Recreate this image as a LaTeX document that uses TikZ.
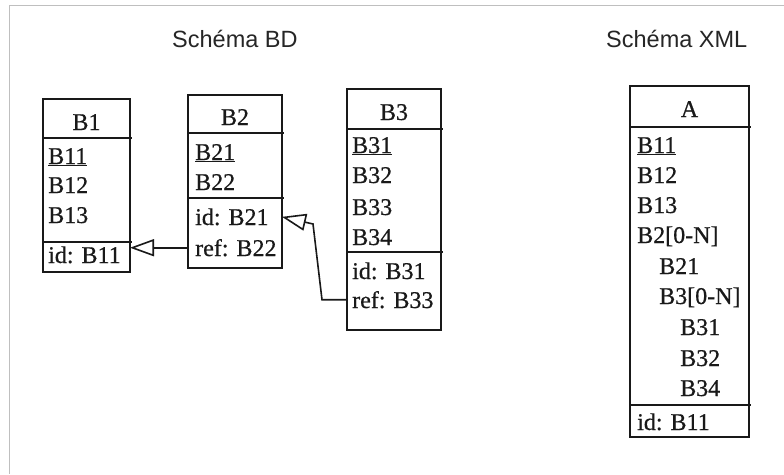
\documentclass[tikz,border=0pt]{standalone}
\usepackage{fontspec}
\setmainfont{Liberation Serif}
\newfontfamily\fieldfont[FakeBold=0.6]{Liberation Serif}
\newfontfamily\titlefont{Liberation Sans}
\usetikzlibrary{arrows.meta}
\begin{document}
\begin{tikzpicture}[x=1pt,y=-1pt,
  box/.style={draw=black!90, line width=1.8pt, anchor=north west, inner sep=0pt, outer sep=0pt},
  sepline/.style={draw=black!90, line width=1.8pt},
  field/.style={anchor=base west, inner sep=0pt, font=\fieldfont\fontsize{24}{28}\selectfont, text=black!90},
  head/.style={anchor=base, inner sep=0pt, font=\fieldfont\fontsize{24}{28}\selectfont, text=black!90},
  title/.style={anchor=base west, inner sep=0pt, font=\titlefont\fontsize{23.5}{28}\selectfont, text=black!85},
  frame/.style={draw=black!25, line width=0.8pt},
  link/.style={draw=black!90, line width=1.6pt, -{Triangle[open, length=24pt, width=17pt]}},
]
\useasboundingbox (0,0) rectangle (784,474);
\fill[white] (0,0) rectangle (784,474);

% light frame, top and left sides
\draw[frame] (784,5) -- (9,5) -- (9,474);

% titles
\node[title] (tBD) at (172,47) {Schéma BD};
\node[title] (tXML) at (606,47) {Schéma XML};

% ---------- table B1 ----------
\node[box, minimum width=87, minimum height=173] (B1box) at (43,99) {};
\draw[sepline] (43,138) -- (132,138);
\draw[sepline] (43,242) -- (132,242);
\node[head] (B1h) at (86.5,130) {B1};
\node[field] (B1a) at (48,164) {\underline{B11}};
\node[field] (B1b) at (48,193) {B12};
\node[field] (B1c) at (48,223) {B13};
\node[field] (B1id) at (48,263) {id: B11};

% ---------- table B2 ----------
\node[box, minimum width=94, minimum height=173] (B2box) at (188,95) {};
\draw[sepline] (188,133) -- (284,133);
\draw[sepline] (188,198) -- (284,198);
\node[head] (B2h) at (235,125) {B2};
\node[field] (B2a) at (195,160) {\underline{B21}};
\node[field] (B2b) at (195,190) {B22};
\node[field] (B2id) at (195,225) {id: B21};
\node[field] (B2ref) at (195,256) {ref: B22};

% ---------- table B3 ----------
\node[box, minimum width=94, minimum height=241] (B3box) at (347,89) {};
\draw[sepline] (347,129) -- (443,129);
\draw[sepline] (347,252) -- (443,252);
\node[head] (B3h) at (394,120) {B3};
\node[field] (B3a) at (352,153) {\underline{B31}};
\node[field] (B3b) at (352,183) {B32};
\node[field] (B3c) at (352,215) {B33};
\node[field] (B3d) at (352,245) {B34};
\node[field] (B3id) at (352,279) {id: B31};
\node[field] (B3ref) at (352,308) {ref: B33};

% ---------- XML element A ----------
\node[box, minimum width=119, minimum height=351] (Abox) at (630,86) {};
\draw[sepline] (630,127) -- (751,127);
\draw[sepline] (630,405) -- (751,405);
\node[head] (Ah) at (689.5,117) {A};
\node[field] (Aa) at (637,153) {\underline{B11}};
\node[field] (Ab) at (637,183) {B12};
\node[field] (Ac) at (637,213) {B13};
\node[field] (Ad) at (637,243) {B2[0-N]};
\node[field] (Ae) at (659,274) {B21};
\node[field] (Af) at (659,304) {B3[0-N]};
\node[field] (Ag) at (680,335) {B31};
\node[field] (Ah2) at (680,366) {B32};
\node[field] (Ai) at (680,396) {B34};
\node[field] (Aid) at (637,430) {id: B11};

% ---------- references ----------
\draw[link] (B2ref.west -| B2box.west) -- (B2ref.west -| B1box.east);
\coordinate (k2) at (313,224);
\draw[link] (B3ref.west -| B3box.west) -- ++(-25,0) -- (k2) -- (B2id.west -| B2box.east);
\end{tikzpicture}
\end{document}
